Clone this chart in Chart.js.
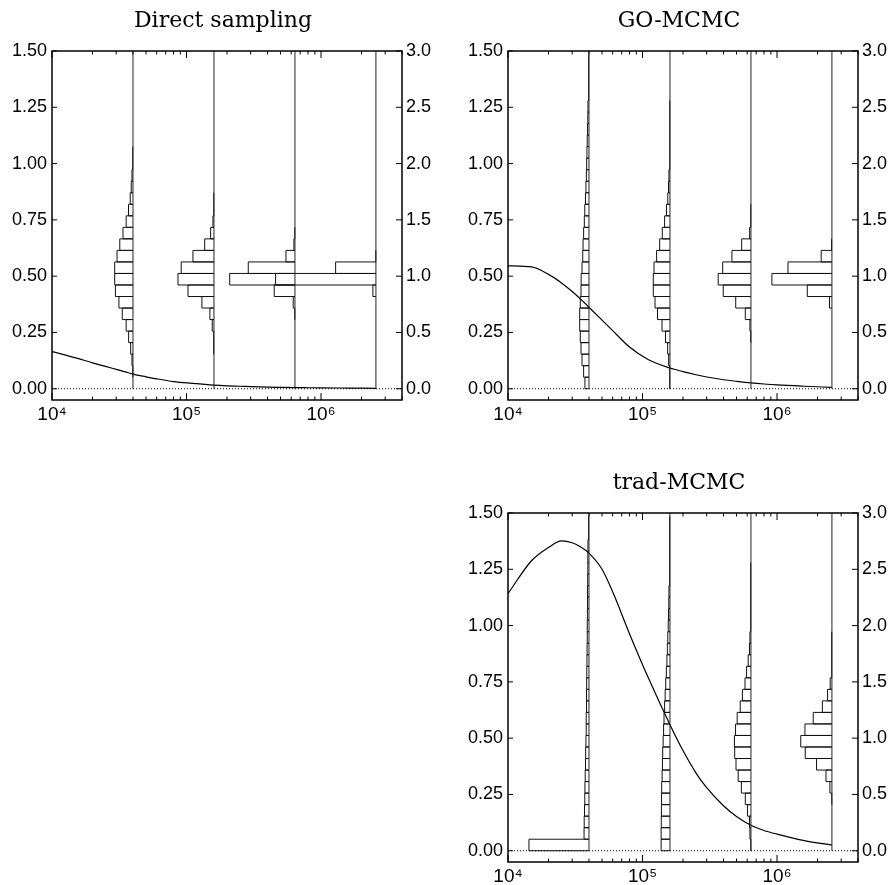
<!DOCTYPE html>
<html>
<head>
<meta charset="utf-8">
<script src="https://cdn.jsdelivr.net/npm/chart.js@4.4.0/dist/chart.umd.min.js"></script>
<style>
  body { margin: 0; background: #fff; overflow: hidden; width: 892px; height: 885px; position: relative; }
  canvas { position: absolute; }
</style>
</head>
<body>
<canvas id="direct" width="446" height="445" style="left:0;top:0"></canvas>
<canvas id="gomcmc" width="446" height="445" style="left:456px;top:0"></canvas>
<canvas id="trad" width="446" height="445" style="left:456px;top:462px"></canvas>
<script>
// Sample sizes where the histograms sit, and the histogram bins (left axis units)
const sampleSizes = [4e4, 1.6e5, 6.4e5, 2.56e6];
const binWidth = 0.0512;
const histDecades = 1.078; // decades of x per unit of bin fraction

// Fraction of runs per bin, bin k spans [k*binWidth, (k+1)*binWidth]
const directHists = [
  [0, .002, .007, .016, .030, .047, .074, .097, .121, .126, .126, .110, .091, .069, .047, .031, .019, .012, .007, .005, .002],
  [0, 0, 0, .002, .005, .012, .028, .083, .179, .248, .226, .145, .064, .023, .007, .003, .002],
  [0, 0, 0, 0, 0, 0, .002, .012, .143, .450, .322, .062, .007, .002],
  [0, 0, 0, 0, 0, 0, 0, 0, .021, .692, .278, .002]
];
const goHists = [
  [.028, .037, .048, .055, .060, .064, .064, .060, .055, .054, .048, .043, .041, .037, .032, .029, .024, .021, .018, .016, .014, .012, .010, .008, .007, .006, .005, .004, .003],
  [.002, .005, .009, .016, .031, .055, .086, .103, .115, .115, .110, .092, .071, .053, .037, .024, .015, .010, .007, .005, .004, .003, .002, .002, .001],
  [0, 0, 0, 0, .002, .007, .039, .105, .191, .226, .195, .131, .064, .009, .003, .002],
  [0, 0, 0, 0, 0, 0, 0, .017, .170, .414, .303, .074, .005]
];
const tradHists = [
  [.414, .034, .033, .031, .029, .028, .026, .024, .023, .021, .019, .019, .017, .017, .016, .015, .014, .013, .012, .012, .011, .010, .010, .009, .008, .008, .007, .006, .006],
  [.061, .061, .060, .059, .058, .057, .054, .052, .050, .047, .044, .041, .037, .033, .029, .025, .021, .018, .015, .012, .010, .008, .007, .006, .005, .004, .004, .003, .003],
  [.002, .007, .010, .024, .039, .066, .088, .103, .112, .114, .106, .095, .074, .059, .041, .030, .019, .010, .007, .005, .004, .003, .002, .002, .001],
  [0, 0, 0, 0, .002, .014, .041, .106, .184, .215, .186, .129, .066, .030, .012, .005, .003, .002, .001]
];

// Curves
const curveN = [1e4, 1.5e4, 2e4, 2.5e4, 3e4, 3.5e4, 4e4, 5e4, 6e4, 8e4, 1.1e5, 1.6e5, 2e5, 2.5e5, 3e5, 4e5, 5e5, 6.4e5, 8e5, 1e6, 1.6e6, 2.56e6];
const directCurve = [0.165, 0.137, 0.115, 0.099, 0.086, 0.075, 0.065, 0.053, 0.044, 0.032, 0.024, 0.016, 0.013, 0.011, 0.009, 0.007, 0.006, 0.005, 0.0045, 0.004, 0.003, 0.002];
const goCurve = [0.546, 0.541, 0.508, 0.470, 0.432, 0.396, 0.362, 0.305, 0.258, 0.185, 0.130, 0.092, 0.076, 0.062, 0.052, 0.040, 0.033, 0.026, 0.021, 0.017, 0.011, 0.006];
const tradCurve = [1.142, 1.289, 1.347, 1.376, 1.368, 1.348, 1.322, 1.250, 1.150, 0.964, 0.770, 0.560, 0.445, 0.345, 0.280, 0.200, 0.152, 0.113, 0.090, 0.074, 0.045, 0.025];

// Axes
const xMin = 1e4, xMax = 4e6;
const xLabelTicks = [1e4, 1e5, 1e6];
const sup = { 4: '\u2074', 5: '\u2075', 6: '\u2076' };

Chart.defaults.font.family = 'Liberation Sans';
Chart.defaults.color = '#000';

function histPath(n, fractions) {
  const pts = [];
  fractions.forEach((f, k) => {
    if (f <= 0) return;
    const left = n * Math.pow(10, -histDecades * f);
    const lo = k * binWidth, hi = (k + 1) * binWidth;
    pts.push({ x: n, y: lo }, { x: left, y: lo }, { x: left, y: hi }, { x: n, y: hi });
  });
  return pts;
}

// inward tick marks and the box
const frameTicks = {
  id: 'frameTicks',
  afterDatasetsDraw(chart) {
    const { ctx, chartArea: a, scales } = chart;
    const x = scales.x, y = scales.y, y2 = scales.y2;
    ctx.save();
    ctx.strokeStyle = '#000';
    ctx.lineWidth = 1;
    ctx.beginPath();
    for (let d = 4; d <= 6; d++) {
      for (let m = 1; m <= 9; m++) {
        const v = m * Math.pow(10, d);
        if (v > xMax) break;
        const px = x.getPixelForValue(v);
        const len = m === 1 ? 7 : 3.5;
        ctx.moveTo(px, a.bottom); ctx.lineTo(px, a.bottom - len);
        ctx.moveTo(px, a.top); ctx.lineTo(px, a.top + len);
      }
    }
    y.ticks.forEach(t => {
      const py = y.getPixelForValue(t.value);
      ctx.moveTo(a.left, py); ctx.lineTo(a.left + 5, py);
    });
    y2.ticks.forEach(t => {
      const py = y2.getPixelForValue(t.value);
      ctx.moveTo(a.right, py); ctx.lineTo(a.right - 6, py);
    });
    ctx.stroke();
    ctx.lineWidth = 1.5;
    ctx.strokeRect(a.left, a.top, a.right - a.left, a.bottom - a.top);
    ctx.restore();
  }
};

function makePanel(id, title, hists, curve) {
  const datasets = [];
  datasets.push({
    data: [{ x: xMin, y: 0 }, { x: xMax, y: 0 }],
    borderColor: '#000', borderWidth: 1, borderDash: [1, 2]
  });
  sampleSizes.forEach((n, j) => {
    datasets.push({ data: [{ x: n, y: 0 }, { x: n, y: 1.5 }], borderColor: '#222', borderWidth: 1 });
    datasets.push({ data: histPath(n, hists[j]), borderColor: '#111', borderWidth: 1 });
  });
  datasets.push({
    data: curveN.map((n, i) => ({ x: n, y: curve[i] })),
    borderColor: '#000', borderWidth: 1.2,
    cubicInterpolationMode: 'monotone'
  });

  new Chart(document.getElementById(id), {
    type: 'line',
    data: { datasets },
    options: {
      responsive: false,
      animation: false,
      events: [],
      layout: { padding: 0 },
      elements: { point: { radius: 0 }, line: { tension: 0, fill: false } },
      plugins: {
        legend: { display: false },
        tooltip: { enabled: false },
        title: {
          display: true,
          text: title,
          color: '#000',
          font: { family: 'DejaVu Serif', size: 22, weight: 'normal', lineHeight: 26 / 22 },
          padding: { top: 8, bottom: 17 }
        }
      },
      scales: {
        x: {
          type: 'logarithmic',
          position: 'bottom',
          min: xMin,
          max: xMax,
          grid: { display: false, drawTicks: false },
          border: { display: false },
          afterBuildTicks: s => { s.ticks = xLabelTicks.map(v => ({ value: v })); },
          afterFit: s => { s.height = 45; },
          ticks: {
            autoSkip: false,
            maxRotation: 0,
            padding: 3,
            font: { size: 19 },
            callback: v => '10' + sup[Math.round(Math.log10(v))]
          }
        },
        y: {
          type: 'linear',
          position: 'left',
          min: -0.05,
          max: 1.5,
          grid: { display: false, drawTicks: false },
          border: { display: false },
          afterFit: s => { s.width = 52; },
          ticks: { stepSize: 0.25, includeBounds: false, padding: 5, font: { size: 18 }, callback: v => v.toFixed(2) }
        },
        y2: {
          type: 'linear',
          position: 'right',
          min: -0.1,
          max: 3.0,
          grid: { display: false, drawTicks: false },
          border: { display: false },
          afterFit: s => { s.width = 44; },
          ticks: { stepSize: 0.5, includeBounds: false, padding: 4, font: { size: 18 }, callback: v => v.toFixed(1) }
        }
      }
    },
    plugins: [frameTicks]
  });
}

makePanel('direct', 'Direct sampling', directHists, directCurve);
makePanel('gomcmc', 'GO-MCMC', goHists, goCurve);
makePanel('trad', 'trad-MCMC', tradHists, tradCurve);
</script>
</body>
</html>
